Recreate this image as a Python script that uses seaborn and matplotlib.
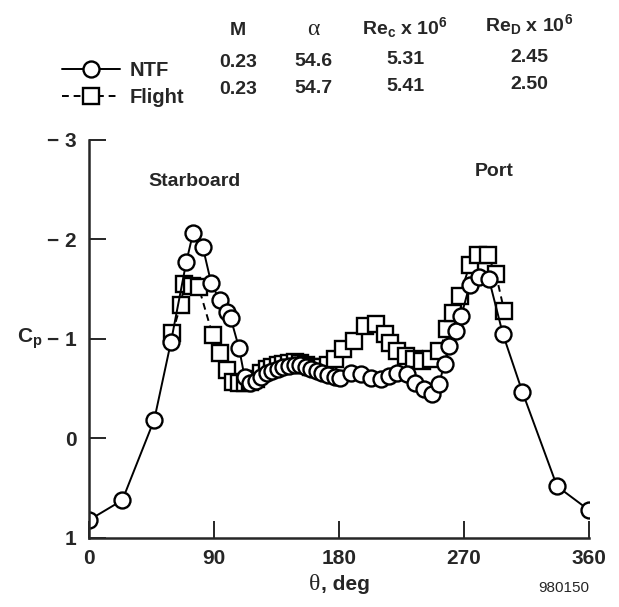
import numpy as np
import pandas as pd
import seaborn as sns
import matplotlib.pyplot as plt
from matplotlib.lines import Line2D

# NTF (wind tunnel) data, theta in deg and Cp
ntf_theta = [0, 24, 47, 59, 70, 75, 82, 88, 94, 99, 102, 108, 112, 116, 120, 124, 128,
             132, 136, 140, 144, 148, 152, 156, 160, 164, 168, 172, 177, 181, 189, 196,
             203, 210, 216, 222, 229, 235, 241, 247, 252, 256, 259, 264, 268, 274, 281,
             288, 298, 312, 337, 360]
ntf_cp = [0.82, 0.62, -0.19, -0.97, -1.77, -2.07, -1.92, -1.56, -1.39, -1.27, -1.21, -0.91,
          -0.62, -0.56, -0.58, -0.62, -0.66, -0.68, -0.70, -0.72, -0.73, -0.74, -0.74, -0.72,
          -0.70, -0.68, -0.66, -0.64, -0.62, -0.61, -0.66, -0.65, -0.61, -0.60, -0.63, -0.66,
          -0.65, -0.56, -0.50, -0.45, -0.55, -0.75, -0.93, -1.08, -1.23, -1.54, -1.62, -1.60,
          -1.05, -0.47, 0.48, 0.72]

# Flight data
flight_theta = [60, 66, 68.5, 74, 79, 89, 94, 99, 104, 108, 112, 116, 120, 124, 128, 132,
                136, 140, 144, 148, 152, 156, 160, 164, 168, 172, 177, 183, 191, 199, 207,
                213, 217, 222, 228, 234, 240, 246, 252, 258, 262, 267, 274, 280, 287, 293, 299]
flight_cp = [-1.06, -1.34, -1.55, -1.53, -1.52, -1.04, -0.86, -0.69, -0.57, -0.56, -0.56,
             -0.57, -0.60, -0.66, -0.70, -0.72, -0.74, -0.75, -0.76, -0.77, -0.76, -0.74,
             -0.72, -0.71, -0.72, -0.74, -0.80, -0.90, -0.98, -1.13, -1.15, -1.05, -0.96,
             -0.88, -0.83, -0.80, -0.78, -0.80, -0.88, -1.10, -1.26, -1.43, -1.74, -1.84,
             -1.84, -1.65, -1.28]

# table in the header
series = ['NTF', 'Flight']
mach = ['0.23', '0.23']
alpha = ['54.6', '54.7']
rec = ['5.31', '5.41']
red = ['2.45', '2.50']

x_ticks = [0, 90, 180, 270, 360]
y_ticks = [-3, -2, -1, 0, 1]
y_ticklabels = ['\u2212 3', '\u2212 2', '\u2212 1', '0', '1']

sns.set_style('ticks')
plt.rcParams['font.family'] = ['Liberation Sans', 'DejaVu Sans']
plt.rcParams['font.weight'] = 'bold'
plt.rcParams['mathtext.fontset'] = 'custom'
plt.rcParams['mathtext.rm'] = 'Liberation Sans:bold'
plt.rcParams['mathtext.it'] = 'Liberation Sans:bold'
plt.rcParams['mathtext.bf'] = 'Liberation Sans:bold'

W, H = 619, 607
fig = plt.figure(figsize=(W / 100, H / 100), dpi=100)
ax = fig.add_axes([0.1438, 0.1137, 0.8077, 0.6557])

df_ntf = pd.DataFrame({'theta': ntf_theta, 'cp': ntf_cp})
df_fl = pd.DataFrame({'theta': flight_theta, 'cp': flight_cp})

mk = dict(markersize=11.5, markerfacecolor='white', markeredgecolor='black', markeredgewidth=1.7)
sns.lineplot(data=df_fl, x='theta', y='cp', ax=ax, sort=False, estimator=None, color='black',
             linewidth=1.4, linestyle=(0, (3.5, 2.5)), marker='s', **mk)
sns.lineplot(data=df_ntf, x='theta', y='cp', ax=ax, sort=False, estimator=None, color='black',
             linewidth=1.4, marker='o', **mk)

ax.set_xlim(0, 360)
ax.set_ylim(1, -3)
ax.set_xticks(x_ticks)
ax.set_yticks(y_ticks)
ax.set_yticklabels(y_ticklabels)
ax.tick_params(direction='in', length=12, width=1.4, labelsize=15, pad=8)
ax.tick_params(axis='y', pad=9)
for s in ['top', 'right']:
    ax.spines[s].set_visible(False)
for s in ['left', 'bottom']:
    ax.spines[s].set_linewidth(1.8)
    ax.spines[s].set_clip_on(False)
for lab in ax.get_xticklabels() + ax.get_yticklabels():
    lab.set_fontweight('bold')

ax.set_xlabel('')
ax.set_ylabel('C$_\\mathrm{p}$', rotation=0, fontsize=15, fontweight='bold', ha='center', va='center')
ax.yaxis.set_label_coords(-0.118, 0.5)

fig.text(309 / W, 1 - 585 / H, '\u03b8', family='Liberation Serif', fontsize=17,
         fontweight='normal', ha='left', va='center')
fig.text(321 / W, 1 - 585 / H, ', deg', fontsize=15, fontweight='bold', ha='left', va='center')
fig.text(564 / W, 1 - 588 / H, '980150', fontsize=11, fontweight='normal', ha='center', va='center')

ax.text(76, -2.58, 'Starboard', fontsize=14, fontweight='bold', ha='center', va='center')
ax.text(292, -2.68, 'Port', fontsize=14, fontweight='bold', ha='center', va='center')

# header table (the scan is slightly rotated: rows sit higher toward the right)
def row_y(base, x):
    return 1 - (base - 0.0186 * (x - 100)) / H

col_x = [238, 313, 405, 529]
fig.text(col_x[0] / W, row_y(33, col_x[0]), 'M', fontsize=14, ha='center', va='center')
fig.text(col_x[1] / W, row_y(33, col_x[1]), '\u03b1', family='Liberation Serif', fontsize=17,
         fontweight='normal', ha='center', va='center')
fig.text(col_x[2] / W, row_y(33, col_x[2]), 'Re$_\\mathrm{c}$ x 10$^\\mathrm{6}$', fontsize=14,
         ha='center', va='center')
fig.text(col_x[3] / W, row_y(33, col_x[3]), 'Re$_\\mathrm{D}$ x 10$^\\mathrm{6}$', fontsize=14,
         ha='center', va='center')
row_base = [65, 92]
for i in range(len(series)):
    for cx, vals in zip(col_x, [mach, alpha, rec, red]):
        fig.text(cx / W, row_y(row_base[i], cx), vals[i], fontsize=14, ha='center', va='center')

handles = [
    Line2D([], [], color='black', linewidth=1.4, marker='o', **mk),
    Line2D([], [], color='black', linewidth=1.4, linestyle=(0, (3.5, 2.5)), marker='s', **mk),
]
fig.legend(handles, series, loc='upper left', bbox_to_anchor=(52 / W, 1 - 51 / H),
           frameon=False, numpoints=1, handlelength=2.9, handletextpad=0.45,
           labelspacing=0.4, borderpad=0, prop={'size': 14.5, 'weight': 'bold'})

plt.savefig('out.png', dpi=100)
